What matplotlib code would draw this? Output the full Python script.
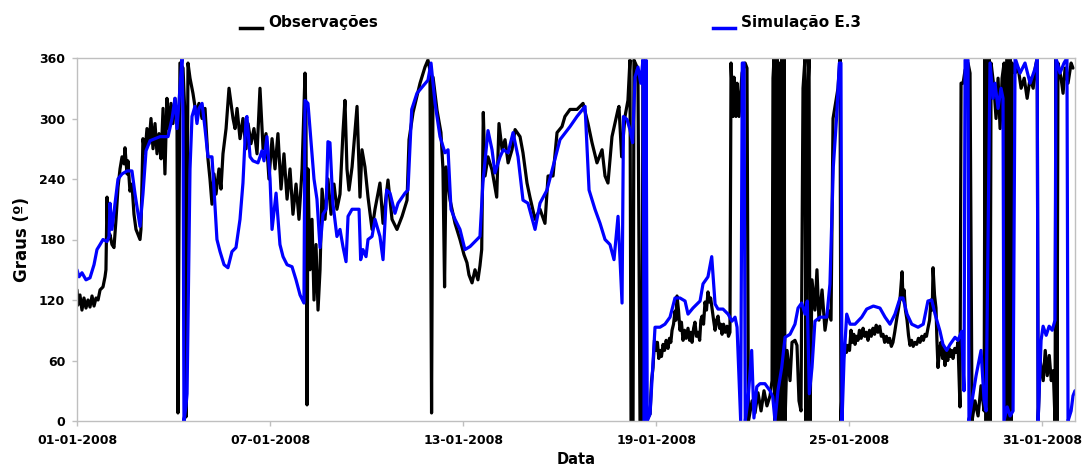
import matplotlib
matplotlib.use('Agg')
import matplotlib.pyplot as plt
from matplotlib.lines import Line2D

# ---------------- data (hours since 01-01-2008 00:00, degrees) ----------------
# Observações, in chunks
obs_h1 = [0, 0.7, 2.2, 3.7, 5.2, 6.7, 8.2, 9.7, 11.2, 12.7, 14.2, 15.7, 17.2, 19.4, 20.9, 21.6, 22.4, 23.1,
          24.6, 26.1, 27.6, 29.1, 30.6, 32.1, 33.6, 35.1, 35.8, 37.3, 38.0, 39.5, 41.0, 42.5, 44.0, 45.5,
          47.0, 47.7, 49.2, 50.7, 52.2, 53.7, 55.2, 56.7, 58.2, 59.7, 61.2, 62.7, 64.2, 65.6, 67.1, 68.6,
          70.1, 71.6, 73.1, 74.6, 75.3, 76.8, 79.1, 80.6, 81.3, 82.8, 84.3, 86.5, 88.8, 91.0, 93.3, 95.5,
          97.7, 99.2, 100.7, 102.2, 103.7, 105.9, 107.4, 108.9, 111.2, 113.4, 114.9, 116.4, 117.9, 119.4,
          121.6, 123.8, 126.1, 127.6, 129.8, 132.0, 134.3, 136.5, 138.8, 141.0, 143.2, 145.5, 147.7, 149.9,
          152.2, 154.4, 156.7, 158.9, 161.1, 163.4, 165.6, 167.9, 170.1, 170.8, 171.6, 172.3, 173.8, 175.3,
          176.8, 178.3, 179.8, 181.3, 182.8, 185.0, 187.2, 189.5, 191.7, 193.9, 196.2, 198.4, 199.9, 201.4,
          202.9, 205.2, 208.9, 211.1, 212.6, 214.8, 217.1, 220.1, 222.3, 226.0, 228.3, 232.0, 235.0, 238.7,
          242.5, 246.2, 247.7, 250.7, 255.9, 259.6, 261.8, 263.3, 264.5, 265.6, 268.6, 271.5, 273.0, 274.2,
          275.3, 278.3, 282.0, 285.7, 288.7, 290.9, 292.4, 294.7, 296.9, 299.1, 300.6, 301.9, 303.1, 304.4,
          306.6, 309.6, 313.1, 314.8, 317.1, 319.3, 321.6, 324.5, 326.8, 330.5, 332.7, 335.7, 337.9, 341.7,
          345.4, 349.1, 351.4, 355.1, 358.1, 361.8, 364.0, 367.8, 373.0, 377.5, 381.2, 384.2, 387.9, 391.7,
          393.9, 396.1, 399.1, 401.3, 403.6, 404.3, 406.3, 408.8, 411.0, 412.5, 413.3, 414.8, 415.5, 417.8,
          418.5, 420.0, 421.5, 422.2, 423.7, 424.5]
obs_d1 = [130, 115, 125, 110, 122, 112, 120, 113, 124, 114, 122, 120, 130, 133, 143, 150, 222, 180,
          185, 175, 172, 200, 232, 250, 262, 255, 271, 245, 258, 228, 235, 205, 190, 185,
          180, 190, 280, 265, 290, 275, 300, 270, 295, 265, 285, 260, 310, 245, 320, 290,
          315, 295, 320, 300, 8, 355, 350, 300, 4, 355, 340, 325, 305, 315, 300, 310,
          260, 240, 215, 245, 225, 250, 230, 265, 290, 330, 315, 300, 290, 310,
          280, 300, 270, 295, 275, 290, 265, 330, 270, 285, 240, 280, 250, 285,
          230, 265, 220, 250, 205, 235, 200, 250, 345, 300, 16, 250, 150, 200,
          120, 175, 110, 150, 230, 200, 240, 205, 235, 210, 225, 286, 318, 250,
          229, 252, 312, 222, 269, 252, 222, 190, 210, 236, 196, 239, 200, 190,
          203, 219, 279, 306, 335, 351, 358, 348, 8, 341, 308, 286, 250, 133,
          252, 219, 196, 180, 165, 157, 145, 137, 150, 140, 154, 170, 306, 243,
          262, 249, 222, 295, 269, 279, 256, 269, 289, 282, 266, 236, 222, 200,
          210, 196, 243, 243, 286, 292, 302, 309, 309, 315, 295, 276, 256, 269,
          243, 236, 282, 295, 309, 312, 262, 302, 318, 358, 0, 0, 358, 351,
          335, 0, 0, 358, 358, 0]
obs_h2 = [427.5, 428.6, 429.7, 430.8, 431.9, 433.0, 434.0, 434.9, 436.0, 437.2, 438.3, 439.5, 440.9, 442.0,
          443.0, 443.9, 445.0, 446.1, 446.8, 447.6, 448.7, 449.8, 450.9, 452.1, 453.2, 454.4, 455.8, 457.0,
          458.0, 458.8, 460.0, 461.0, 462.1, 463.3, 464.5, 465.4, 466.3, 467.4, 468.5, 469.6, 470.7, 471.8,
          472.7, 473.7, 474.9, 476.0, 477.1, 478.2, 479.3, 480.2, 481.2, 482.3, 483.6, 484.9, 486.0, 487.1]
obs_d2 = [7, 40, 53, 80, 70, 78, 62, 70, 64, 76, 70, 80, 72, 82,
          78, 90, 96, 109, 100, 124, 110, 90, 98, 80, 90, 82, 92, 80,
          88, 78, 92, 98, 84, 88, 80, 100, 104, 96, 118, 110, 128, 118,
          122, 112, 100, 90, 100, 104, 92, 96, 86, 96, 88, 94, 84, 88]
obs_h3 = [487.9, 489.4, 490.1, 491.6, 492.4, 493.9, 496.1, 498.4, 499.8, 500.9, 503.6, 505.8, 508.0, 510.3,
          512.5, 514.7, 517.0, 518.5, 519.2, 520.0, 520.7, 521.5, 522.2, 523.0, 523.7, 524.4, 525.9, 526.7,
          527.4, 528.2, 529.7, 531.9, 533.4, 535.6, 537.1, 538.6, 540.1, 541.6, 543.1, 543.8, 544.6, 546.1,
          546.8, 548.3, 550.5, 552.0, 553.5, 555.8, 558.0, 560.2, 562.5, 564.0, 566.2, 567.7, 569.2, 569.9,
          571.4]
obs_d3 = [355, 302, 341, 302, 335, 302, 345, 355, 350, 0, 20, 8, 28, 10,
          30, 15, 25, 40, 340, 360, 0, 350, 360, 0, 355, 0, 360, 0,
          360, 0, 70, 40, 78, 80, 75, 20, 10, 330, 360, 0, 300, 360,
          0, 140, 110, 150, 100, 130, 90, 110, 100, 300, 318, 330, 360, 0,
          60]
obs_h4 = [572.9, 574.0, 575.2, 576.3, 577.4, 578.6, 579.5, 580.4, 581.5, 582.6, 583.7, 585.0, 586.4, 587.6,
          588.8, 590.1, 591.2, 592.5, 593.8, 595.0, 596.2, 597.5, 598.8, 600.0, 601.3, 602.5, 603.8, 605.0,
          606.2, 607.5, 608.7, 610.0, 611.7, 612.9, 614.0, 615.5, 616.2, 617.0, 618.0, 619.2, 620.3, 621.4,
          622.6, 623.8, 625.1, 626.4, 627.7, 628.9, 630.2, 631.4, 632.6, 633.7, 634.8, 636.0, 637.1, 638.0,
          638.6, 639.7, 640.8, 641.5, 642.3, 643.4, 644.5, 645.7, 646.6, 647.5, 648.6, 649.6, 650.5, 651.6,
          652.5, 653.5, 654.8, 656.0, 657.2]
obs_d4 = [76, 68, 75, 70, 90, 78, 86, 76, 84, 80, 90, 82, 92, 84,
          88, 80, 90, 84, 92, 86, 95, 88, 94, 84, 86, 78, 84, 78,
          82, 74, 78, 88, 103, 112, 122, 148, 120, 130, 110, 100, 85, 75,
          80, 74, 78, 76, 82, 78, 84, 80, 86, 84, 92, 100, 120, 110,
          152, 125, 112, 80, 53, 70, 78, 62, 72, 55, 68, 60, 72, 64,
          70, 62, 72, 68, 78]
obs_h5 = [658.7, 659.5, 661.0, 662.5, 664.7, 666.2, 667.7, 669.9, 672.2, 674.4, 676.7, 677.4, 678.2, 678.9,
          679.7, 680.4, 681.1, 681.9, 684.1, 685.6, 687.1, 688.6, 690.1, 691.6, 692.4, 693.9, 694.6, 696.1,
          696.8, 697.6, 699.8, 702.1, 704.3, 706.6, 708.8, 711.0, 713.3, 714.8, 716.3, 717.0, 718.5, 720.8,
          722.3, 723.8, 725.3, 726.8, 728.3, 729.6, 730.3, 731.1, 731.8, 734.1, 735.6, 737.1, 739.3, 741.6,
          743.0]
obs_d5 = [14, 335, 335, 348, 355, 345, 0, 20, 5, 35, 10, 360, 0, 360,
          0, 360, 0, 355, 330, 300, 340, 290, 340, 355, 0, 360, 0, 360,
          0, 355, 345, 350, 330, 340, 320, 340, 330, 350, 360, 0, 60, 40,
          70, 45, 65, 40, 50, 0, 360, 0, 355, 340, 325, 350, 335, 355,
          350]

# Simulação E.3
sim_hours = [0, 1.5, 3.7, 6.7, 9.7, 12.7, 14.9, 17.2, 19.4, 22.4, 23.9, 24.6, 26.1, 28.3, 30.6, 33.6, 37.3,
             41.0, 43.3, 47.0, 49.2, 51.5, 54.5, 61.9, 67.9, 70.9, 73.1, 74.6, 76.8, 78.3, 79.1, 79.8, 81.3,
             82.1, 84.3, 85.8, 88.0, 89.5, 91.0, 93.3, 95.5, 97.7, 100.7, 102.2, 104.4, 106.7, 109.7, 112.6,
             115.6, 118.6, 121.6, 123.8, 126.1, 126.8, 129.1, 131.3, 135.0, 138.0, 139.5, 141.7, 144.0, 145.5,
             148.5, 151.4, 153.7, 156.7, 160.4, 163.4, 166.4, 169.3, 170.1, 172.3, 173.8, 176.8, 179.0, 181.3,
             183.5, 185.8, 187.2, 188.7, 190.9, 193.9, 196.2, 198.4, 200.7, 202.2, 205.2, 210.4, 211.6, 213.3,
             215.6, 217.1, 220.1, 222.3, 226.0, 228.3, 231.0, 233.5, 237.2, 239.5, 244.7, 246.9, 249.7, 253.6,
             257.4, 261.8, 264.1, 267.1, 270.8, 274.5, 276.8, 279.0, 282.0, 285.7, 289.4, 293.2, 298.4, 300.6,
             302.8, 306.6, 309.6, 311.8, 315.6, 318.0, 321.6, 325.3, 329.0, 332.7, 336.4, 341.7, 345.4, 350.6,
             355.1, 360.3, 367.8, 373.0, 379.0, 382.0, 386.4, 390.2, 393.9, 397.6, 400.6, 403.6, 406.6, 407.7,
             410.3, 412.5, 414.5, 416.3, 418.5, 420.5, 422.2, 423.2, 424.5, 425.4, 427.5, 431.2, 434.9, 438.6,
             442.4, 446.1, 449.8, 453.6, 455.8, 459.5, 464.8, 467.0, 470.7, 473.5, 476.0, 478.2, 481.9, 485.7,
             488.6, 490.9, 492.4, 495.1, 496.3, 497.6, 498.5, 500.5, 503.3, 505.0, 507.1, 509.5, 513.2, 517.0,
             519.0, 520.7, 522.9, 525.7, 528.2, 531.9, 535.6, 537.9, 540.6, 543.1, 544.8, 546.3, 548.3, 550.5,
             554.3, 559.3, 561.7, 564.2, 566.7, 568.7, 569.9, 570.7, 572.2, 574.2, 576.7, 580.4, 585.4, 589.1,
             594.1, 599.0, 602.8, 606.5, 610.2, 614.0, 616.2, 619.2, 622.7, 627.4, 631.3, 634.8, 637.6, 640.1,
             643.8, 646.0, 648.8, 651.3, 655.0, 657.2, 660.0, 661.7, 662.5, 664.7, 665.4, 667.7, 670.7, 674.4,
             676.7, 678.2, 681.1, 683.4, 684.8, 687.1, 689.3, 690.8, 691.5, 693.9, 696.1, 698.3, 699.8, 703.5,
             707.2, 711.0, 714.8, 716.3, 717.0, 719.2, 720.7, 723.0, 725.2, 727.5, 729.6, 730.3, 733.3, 736.3,
             738.5, 739.3, 741.6, 743.0, 744.5]
sim_deg = [150, 143, 147, 140, 142, 155, 170, 175, 180, 178, 183, 216, 190, 215, 240, 245, 248,
           248, 225, 193, 225, 268, 278, 282, 282, 300, 320, 290, 330, 360, 300, 0, 15,
           27, 250, 302, 312, 295, 310, 315, 290, 262, 262, 230, 180, 168, 155, 152,
           168, 172, 200, 236, 300, 302, 262, 258, 256, 268, 258, 282, 240, 190,
           226, 175, 163, 155, 153, 140, 125, 117, 318, 315, 290, 240, 220, 172,
           205, 210, 277, 276, 216, 183, 190, 173, 158, 203, 210, 210, 160, 170,
           163, 180, 183, 200, 183, 160, 229, 226, 206, 216, 226, 229, 309, 325,
           331, 338, 355, 315, 282, 266, 269, 210, 200, 190, 170, 173, 180, 183,
           236, 288, 269, 246, 262, 269, 266, 286, 262, 219, 216, 190, 216, 229,
           252, 279, 292, 302, 312, 229, 210, 196, 180, 175, 160, 203, 117, 302,
           299, 289, 276, 341, 351, 335, 358, 0, 358, 0, 7, 93, 93, 96,
           103, 122, 122, 119, 106, 112, 119, 136, 143, 163, 116, 111, 111, 106,
           99, 103, 93, 0, 355, 355, 0, 20, 70, 3, 34, 37, 37, 30,
           24, 0, 30, 53, 83, 86, 96, 112, 117, 106, 119, 27, 53, 99,
           103, 103, 136, 252, 302, 355, 355, 0, 61, 106, 96, 96, 103, 111,
           114, 112, 103, 96, 106, 122, 122, 106, 96, 93, 96, 119, 120, 106,
           89, 76, 70, 76, 83, 80, 89, 30, 358, 358, 0, 20, 45, 70,
           20, 10, 355, 320, 335, 310, 330, 320, 0, 14, 5, 10, 360, 345,
           355, 335, 350, 360, 0, 80, 94, 85, 94, 90, 100, 360, 345, 355,
           360, 0, 10, 25, 30]

y_ticks = [0, 60, 120, 180, 240, 300, 360]
x_tick_hours = [0, 144, 288, 432, 576, 720]
x_tick_labels = ['01-01-2008', '07-01-2008', '13-01-2008', '19-01-2008', '25-01-2008', '31-01-2008']
series_names = ['Observações', 'Simulação E.3']

obs_hours = obs_h1 + obs_h2 + obs_h3 + obs_h4 + obs_h5
obs_deg = obs_d1 + obs_d2 + obs_d3 + obs_d4 + obs_d5

# ---------------- figure ----------------
W, H = 1087, 470
plt.rcParams['font.family'] = ['DejaVu Sans']
fig = plt.figure(figsize=(W / 100, H / 100), dpi=100)
ax = fig.add_axes([77 / W, 1 - 421 / H, (1075 - 77) / W, (421 - 58) / H])

ax.plot(obs_hours, obs_deg, color='black', lw=2.3, solid_joinstyle='round', solid_capstyle='round')
ax.plot(sim_hours, sim_deg, color='#0000FF', lw=2.3, solid_joinstyle='round', solid_capstyle='round')

ax.set_xlim(0, 744.5)
ax.set_ylim(0, 360)
ax.set_yticks(y_ticks)
ax.set_xticks(x_tick_hours)
ax.set_xticklabels(x_tick_labels)

for s in ax.spines.values():
    s.set_color('#BFBFBF')
    s.set_linewidth(1.0)
ax.tick_params(axis='both', colors='#BFBFBF', labelcolor='black', length=3.5, width=1.0, direction='out')
ax.tick_params(axis='y', pad=5)
ax.tick_params(axis='x', pad=6)
for lab in ax.get_xticklabels() + ax.get_yticklabels():
    lab.set_fontsize(9)
    lab.set_fontweight('bold')

ax.set_ylabel('Graus (º)', fontsize=12, fontweight='bold')
ax.yaxis.set_label_coords(-0.046, 0.5)
ax.set_xlabel('Data', fontsize=10.5, fontweight='bold')
ax.xaxis.set_label_coords(0.5, -0.085)

# legend (top)
ly = 1 - 28 / H
fig.add_artist(Line2D([240 / W, 262 / W], [ly, ly], color='black', lw=2.5, transform=fig.transFigure))
fig.text(268 / W, 1 - 27 / H, series_names[0], fontsize=11, fontweight='bold', va='baseline', ha='left')
fig.add_artist(Line2D([713 / W, 735 / W], [ly, ly], color='#0000FF', lw=2.5, transform=fig.transFigure))
fig.text(741 / W, 1 - 27 / H, series_names[1], fontsize=11, fontweight='bold', va='baseline', ha='left')

fig.savefig('out.png', dpi=100)
